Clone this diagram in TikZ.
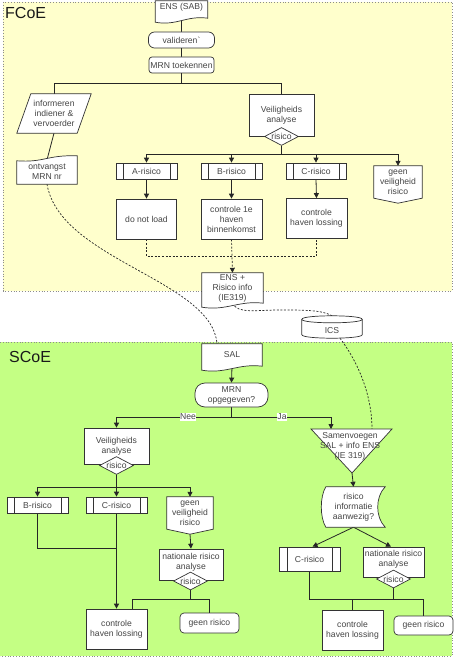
\documentclass[tikz,border=0pt]{standalone}
\usepackage{fontspec}
\setmainfont{Liberation Sans}
\usetikzlibrary{arrows.meta,shapes.geometric,calc}
\pgfdeclarelayer{back}\pgfdeclarelayer{conn}\pgfdeclarelayer{shp}
\pgfsetlayers{back,conn,shp,main}
\definecolor{fyellow}{HTML}{FFFFCC}
\definecolor{sgreen}{HTML}{C4FF84}
\definecolor{ink}{HTML}{333333}
\definecolor{tink}{HTML}{454545}
\definecolor{dotc}{HTML}{8C8C8C}
\tikzset{
  txt/.style={font=\fontsize{8.6}{10}\selectfont, text=tink, align=center, inner sep=0pt},
  box/.style={txt, draw=ink, line width=0.7pt, fill=white},
  sz/.style 2 args={minimum width=#1pt, minimum height=#2pt},
  pp/.style={box, path picture={\draw[ink,line width=0.7pt]
      ([xshift=#1]path picture bounding box.north west) -- ([xshift=#1]path picture bounding box.south west)
      ([xshift=-#1]path picture bounding box.north east) -- ([xshift=-#1]path picture bounding box.south east);}},
  pp/.default=7pt,
  dia/.style={txt, diamond, aspect=2, draw=ink, line width=0.7pt, fill=white, minimum width=34pt, minimum height=18pt},
  shpline/.style={draw=ink, line width=0.7pt, fill=white},
  conn/.style={draw=black!85, line width=0.8pt},
  arr/.style={conn, -{Triangle[width=5pt,length=5pt]}},
  dsh/.style={draw=black!85, line width=0.7pt, dash pattern=on 2pt off 1.6pt},
  dsharr/.style={dsh, -{Triangle[width=5pt,length=5pt]}},
  lab/.style={txt, fill=white, inner sep=0.6pt},
  region/.style={draw=dotc, line width=0.7pt, dash pattern=on 0.8pt off 2pt},
  title/.style={font=\fontsize{16}{16}\selectfont, anchor=base west, inner sep=0pt, text=black!90}
}
\newcommand\docshape[1]{%
  \path[shpline] let \p1=(#1.south west), \p2=(#1.north east), \n1={\x2-\x1} in
  (\x1,\y2) -- (\x2,\y2) -- (\x2,\y1)
  .. controls ({\x2-0.4*\n1},{\y1+3pt}) and ({\x1+0.4*\n1},{\y1-8pt}) .. (\x1,{\y1-4pt}) -- cycle;}
\newcommand\topwave[1]{%
  \path[shpline] let \p1=(#1.south west), \p2=(#1.north east), \n1={\x2-\x1} in
  (\x1,{\y2-1pt}) .. controls ({\x1+0.45*\n1},{\y2-3pt}) and ({\x1+0.5*\n1},{\y2+5pt}) .. (\x2,{\y2+4pt})
  -- (\x2,\y1) -- (\x1,\y1) -- cycle;}
\newcommand\offpage[1]{%
  \path[shpline] let \p1=(#1.south west), \p2=(#1.north east) in
  (\x1,\y2) -- (\x2,\y2) -- (\x2,\y1) -- ({0.5*\x1+0.5*\x2},{\y1-5pt}) -- (\x1,\y1) -- cycle;}
\begin{document}
\begin{tikzpicture}[x=1pt,y=-1pt]
\useasboundingbox (0,0) rectangle (455,658);
% regions
\begin{pgfonlayer}{back}
  \fill[fyellow] (3,2) rectangle (452,291);
  \draw[region] (3,2) rectangle (452,291);
  \fill[sgreen] (0,342) rectangle (452,656);
  \draw[region] (0,342) -- (452,342) -- (452,656) -- (0,656);
\end{pgfonlayer}
\node[title] (fcoe) at (5,19) {FCoE};
\node[title] (scoe) at (9,362) {SCoE};
% FCoE nodes
\node[txt, sz={52}{17}] (ens) at (181.5,9.5) {};
\node[txt] (enst) at (181.5,7.5) {ENS (SAB)};
\node[box, rounded corners=6pt, sz={66}{16}] (val) at (181.5,40) {valideren\textasciigrave};
\node[box, rounded corners=3pt, sz={65}{16}] (mrn) at (181.5,65) {MRN toekennen};
\node[txt, sz={46}{39}] (inf) at (54,113.5) {informeren\\indiener \&\\vervoerder};
\node[txt, sz={60}{24}] (ont) at (47,172) {ontvangst\\MRN nr};
\node[box, sz={65}{42}] (va1) at (281.5,115) {Veiligheids\\analyse};
\node[dia] (d1) at (281.5,136.5) {risico};
\node[pp, sz={61}{16}] (ar) at (146.5,171) {A-risico};
\node[pp, sz={61}{16}] (br) at (231.5,171) {B-risico};
\node[pp, sz={60}{16}] (cr) at (316,171) {C-risico};
\node[txt, sz={48}{32}] (gv1) at (398,182) {geen\\veiligheid\\risico};
\node[box, sz={60}{40}] (dnl) at (146.5,219) {do not load};
\node[box, sz={61}{40}] (c1e) at (231.5,219) {controle 1e\\haven\\binnenkomst};
\node[box, sz={61}{40}] (chl1) at (316.5,218.5) {controle\\haven lossing};
\node[txt, sz={61}{30}] (ens2) at (232.5,288) {ENS +\\Risico info\\(IE319)};
\node[txt, sz={60}{22}] (ics) at (332,327) {};
\node[txt] (icst) at (332,330.5) {ICS};
% SCoE nodes
\node[txt, sz={60}{22}] (sal) at (232,355) {SAL};
\node[box, rounded corners=10pt, sz={73}{24}] (mrn2) at (231.5,395) {MRN\\opgegeven?};
\node[box, sz={65}{36}] (va2) at (116.5,446) {Veiligheids\\analyse};
\node[dia] (d2) at (116.5,465.5) {risico};
\node[pp, sz={61}{16}] (br2) at (37.5,505) {B-risico};
\node[pp, sz={61}{16}] (cr2) at (116.5,505) {C-risico};
\node[txt, sz={46}{32}] (gv2) at (190,513) {geen\\veiligheid\\risico};
\node[box, sz={64}{31}] (nra1) at (191,564.5) {};
\node[txt] (nra1t) at (191,562) {nationale risico\\analyse};
\node[dia] (d3) at (190.5,581) {risico};
\node[box, sz={61}{40}] (chl2) at (116.5,629) {controle\\haven lossing};
\node[box, rounded corners=4pt, sz={59}{20}] (gr1) at (209.5,623) {geen risico};
\coordinate (mtl) at (311,429);
\coordinate (mtr) at (392,429);
\coordinate (mapex) at (352,473);
\coordinate (mergetop) at (331,429);
\coordinate (mergein) at (372,429);
\node[txt] (merge) at (350,446) {Samenvoegen\\SAL + info ENS\\(IE 319)};
\node[txt, sz={59}{40}] (rin) at (353.5,507) {risico\\informatie\\aanwezig?};
\node[pp=8pt, sz={61}{24}] (cr3) at (309.5,559) {C-risico};
\node[box, sz={61}{30}] (nra2) at (393.5,562) {};
\node[txt] (nra2t) at (393.5,559) {nationale risico\\analyse};
\node[dia] (d4) at (393.5,579) {risico};
\node[box, sz={61}{40}] (chl3) at (352.5,630) {controle\\haven lossing};
\node[box, rounded corners=4pt, sz={59}{19}] (gr2) at (423.5,625.5) {geen risico};
\node[lab] (nee) at (188,417) {Nee};
\node[lab] (ja) at (282,417) {Ja};
% custom shapes
\begin{pgfonlayer}{shp}
  \docshape{ens}
  \docshape{ens2}
  \docshape{sal}
  \topwave{ont}
  \offpage{gv1}
  \offpage{gv2}
  \path[shpline] let \p1=(inf.south west), \p2=(inf.north east) in
    (\x1,\y2) -- ({\x2+14pt},\y2) -- (\x2,\y1) -- ({\x1-14pt},\y1) -- cycle;
  \path[shpline] (mtl) -- (mtr) -- (mapex) -- cycle;
  \path[shpline] let \p1=(rin.south west), \p2=(rin.north east) in
    ({\x1+2pt},\y2) -- ({\x2+2pt},\y2)
    .. controls ({\x2-8pt},{\y2-10pt}) and ({\x2-8pt},{\y1+10pt}) .. ({\x2+2pt},\y1)
    -- ({\x1+2pt},\y1)
    .. controls ({\x1-4pt},{\y1+10pt}) and ({\x1-4pt},{\y2-10pt}) .. ({\x1+2pt},\y2) -- cycle;
  \path[shpline] let \p1=(ics.south west), \p2=(ics.north east) in
    (\x1,{\y2-3.5pt}) -- (\x1,{\y1+3.5pt})
    .. controls (\x1,{\y1-1.17pt}) and (\x2,{\y1-1.17pt}) .. (\x2,{\y1+3.5pt})
    -- (\x2,{\y2-3.5pt})
    .. controls (\x2,{\y2+1.17pt}) and (\x1,{\y2+1.17pt}) .. (\x1,{\y2-3.5pt}) -- cycle;
  \draw[ink, line width=0.7pt] let \p1=(ics.south west), \p2=(ics.north east) in
    (\x1,{\y2-3.5pt}) .. controls (\x1,{\y2-8.17pt}) and (\x2,{\y2-8.17pt}) .. (\x2,{\y2-3.5pt});
\end{pgfonlayer}
% connectors
\begin{pgfonlayer}{conn}
  \draw[conn] (ens.south) -- (val.north);
  \draw[conn] (val.south) -- (mrn.north);
  \draw[conn] (mrn.south) -- ++(0,10) -| (inf.north);
  \draw[conn] (mrn.south) ++(0,10) -| (va1.north);
  \draw[conn] (inf.south) -- (ont.north);
  \draw[conn] (d1.south) -- ++(0,9);
  \draw[arr] (d1.south) ++(0,9) -| (ar.north);
  \draw[arr] (d1.south) ++(0,9) -| (br.north);
  \draw[arr] (d1.south) ++(0,9) -| (cr.north);
  \draw[arr] (d1.south) ++(0,9) -| (gv1.north);
  \draw[arr] (ar.south) -- (dnl.north);
  \draw[arr] (br.south) -- (c1e.north);
  \draw[arr] (cr.south) -- (chl1.north);
  \draw[dsh] (dnl.south) -- ++(0,17) -| (chl1.south);
  \draw[dsharr] (c1e.south) -- (ens2.north);
  \draw[dsh] (ont.south) .. controls (60,260) and (212,280) .. ([xshift=-15pt]sal.north);
  \draw[dsh] (ens2.south) .. controls (238,314) and (255,310) .. (280,310)
     .. controls (305,310) and (322,310) .. (ics.north);
  \draw[dsh] ([xshift=8pt]ics.south) .. controls (358,362) and (372,395) .. (mergein);
  % SCoE
  \draw[arr] (sal.south) -- (mrn2.north);
  \draw[conn] (mrn2.south) -- ++(0,10);
  \draw[arr] (mrn2.south) ++(0,10) -| (va2.north);
  \draw[arr] (mrn2.south) ++(0,10) -| (mergetop);
  \draw[conn] (d2.south) -- ++(0,13);
  \draw[arr] (d2.south) ++(0,13) -| (br2.north);
  \draw[arr] (d2.south) ++(0,13) -| (cr2.north);
  \draw[arr] (d2.south) ++(0,13) -| (gv2.north);
  \draw[conn] (br2.south) -- ++(0,35) -| (cr2.south);
  \draw[arr] (cr2.south) -- (chl2.north);
  \draw[arr] ([yshift=-5pt]gv2.south) -- (nra1.north);
  \draw[conn] (d3.south) -- ++(0,9);
  \draw[conn] (d3.south) ++(0,9) -| ([xshift=15.5pt]chl2.north);
  \draw[conn] (d3.south) ++(0,9) -| (gr1.north);
  \draw[arr] (mapex) -- (rin.north);
  \draw[arr] (rin.south) -- ([xshift=3pt]cr3.north);
  \draw[arr] (rin.south) -- ([xshift=-2.5pt]nra2.north);
  \draw[conn] (cr3.south) -- ++(0,28) -| (gr2.north);
  \draw[conn] (d4.south) -- ++(0,11);
  \draw[conn] (chl3.north) -- ++(0,-11);
\end{pgfonlayer}
\end{tikzpicture}
\end{document}
